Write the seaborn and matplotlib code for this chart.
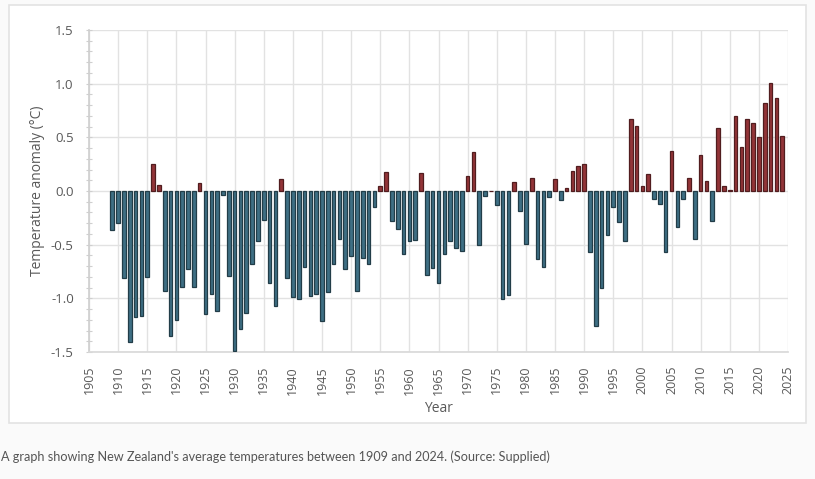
import numpy as np
import pandas as pd
import matplotlib
matplotlib.use("Agg")
import matplotlib.pyplot as plt
import matplotlib.colors as mcolors
from matplotlib.patches import Rectangle
from matplotlib.ticker import MultipleLocator, FormatStrFormatter
import seaborn as sns

years = list(range(1909, 2025))
anomaly = [
    -0.36, -0.30, -0.81, -1.41, -1.17, -1.16, -0.80, 0.25, 0.06, -0.93,   # 1909-1918
    -1.35, -1.20, -0.89, -0.73, -0.89, 0.07, -1.15, -0.96, -1.12, -0.04,  # 1919-1928
    -0.79, -1.49, -1.29, -1.14, -0.68, -0.47, -0.27, -0.86, -1.07, 0.11,  # 1929-1938
    -0.81, -0.99, -1.01, -0.71, -0.98, -0.96, -1.21, -0.94, -0.68, -0.45, # 1939-1948
    -0.73, -0.61, -0.93, -0.62, -0.68, -0.15, 0.05, 0.18, -0.28, -0.35,   # 1949-1958
    -0.59, -0.47, -0.46, 0.17, -0.78, -0.72, -0.86, -0.59, -0.47, -0.53,  # 1959-1968
    -0.56, 0.14, 0.36, -0.50, -0.05, 0.00, -0.13, -1.01, -0.97, 0.08,     # 1969-1978
    -0.19, -0.49, 0.12, -0.63, -0.71, -0.06, 0.11, -0.08, 0.03, 0.19,     # 1979-1988
    0.23, 0.25, -0.57, -1.26, -0.90, -0.41, -0.15, -0.29, -0.47, 0.67,    # 1989-1998
    0.61, 0.05, 0.16, -0.07, -0.12, -0.57, 0.37, -0.34, -0.07, 0.12,      # 1999-2008
    -0.45, 0.34, 0.09, -0.28, 0.59, 0.05, 0.01, 0.70, 0.41, 0.67,         # 2009-2018
    0.63, 0.50, 0.82, 1.01, 0.87, 0.51,                                   # 2019-2024
]
x_ticks = list(range(1905, 2026, 5))
y_ticks = [-1.5, -1.0, -0.5, 0.0, 0.5, 1.0, 1.5]

x_label = "Year"
y_label = "Temperature anomaly (°C)"
caption = "A graph showing New Zealand's average temperatures between 1909 and 2024. (Source: Supplied)"

df = pd.DataFrame({"Year": years, "Anomaly": anomaly})
df["Sign"] = np.where(df["Anomaly"] >= 0, "warm", "cool")

BLUE = "#33748f"
RED = "#a3242a"

sns.set_theme(style="white")
plt.rcParams["font.family"] = ["Open Sans", "DejaVu Sans"]

fig = plt.figure(figsize=(8.15, 4.79), dpi=100, facecolor="#fafafa")
W, H = 815, 479

# white chart frame
fig.patches.append(Rectangle((9 / W, 1 - 423 / H), (806 - 9) / W, (423 - 5) / H,
                             transform=fig.transFigure, facecolor="white",
                             edgecolor="#e3e3e3", linewidth=1.2, zorder=-5))

ax = fig.add_axes([89 / W, 1 - 352 / H, (788 - 89) / W, (352 - 30) / H])
ax.set_zorder(1)
ax.set_facecolor("white")

sns.barplot(data=df, x="Year", y="Anomaly", hue="Sign",
            palette={"warm": RED, "cool": BLUE}, native_scale=True,
            dodge=False, width=0.62, legend=False, ax=ax, zorder=3,
            linewidth=0.9)

for p in ax.patches:
    fc = np.array(mcolors.to_rgb(p.get_facecolor()))
    p.set_edgecolor(tuple(fc * 0.55))

ax.set_xlim(1905, 2025)
ax.set_ylim(-1.5, 1.5)
ax.set_xticks(x_ticks)
ax.set_xticklabels([str(t) for t in x_ticks], rotation=90)
ax.set_yticks(y_ticks)
ax.yaxis.set_major_formatter(FormatStrFormatter("%.1f"))
ax.yaxis.set_minor_locator(MultipleLocator(0.1))

ax.grid(True, which="major", color="#e2e2e2", linewidth=1.0, zorder=0)
ax.set_axisbelow(True)
for s in ["top", "right"]:
    ax.spines[s].set_visible(False)
ax.spines["left"].set_color("#d0d0d0")
ax.spines["bottom"].set_color("#d9d9d9")

ax.tick_params(axis="y", which="minor", left=True, length=4, width=0.8,
               color="#cfcfcf", direction="inout")
ax.tick_params(axis="y", which="major", left=True, length=5, width=0.8,
               color="#cfcfcf", direction="inout", labelsize=9.5,
               labelcolor="#595959", pad=8.5)
ax.tick_params(axis="x", which="major", bottom=False, labelsize=9,
               labelcolor="#595959", pad=4)

ax.set_xlabel(x_label, fontsize=10, color="#595959", labelpad=5)
ax.set_ylabel(y_label, fontsize=10, color="#595959", labelpad=4)

fig.text(1 / W, 1 - 457 / H, caption, fontsize=9.1, color="#555555",
         va="center", ha="left", family=["Lato", "DejaVu Sans"])

fig.savefig("out.png", dpi=100, facecolor=fig.get_facecolor())
